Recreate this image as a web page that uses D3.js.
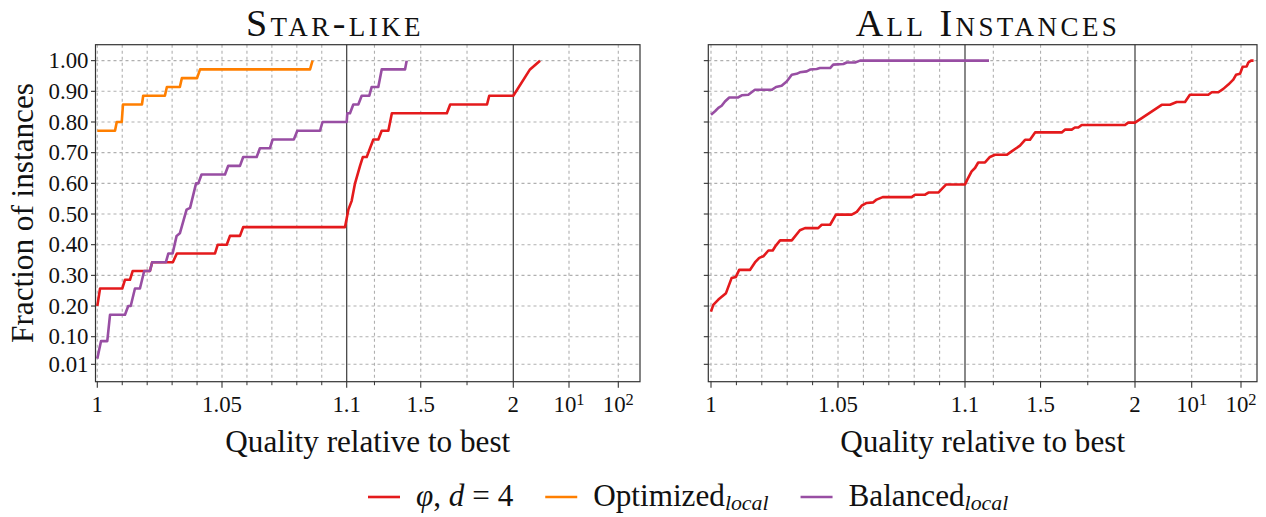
<!DOCTYPE html>
<html><head><meta charset="utf-8">
<script src="https://cdn.jsdelivr.net/npm/d3@7"></script>
<style>
body{margin:0;background:#fff;}
svg text{font-family:"Liberation Serif","DejaVu Serif",serif;fill:#111;}
</style></head><body>
<svg id="c" width="1266" height="517"></svg>
<script>
// ---------- data ----------
const panelTitles = ["Star-like", "All Instances"];
const seriesNames = ["φ, d = 4", "Optimized", "Balanced"];
const seriesColors = ["#e41a1c", "#ff7f00", "#984ea3"];
const yTicks = [0.01, 0.1, 0.2, 0.3, 0.4, 0.5, 0.6, 0.7, 0.8, 0.9, 1.0];
const yTickLabels = ["0.01", "0.10", "0.20", "0.30", "0.40", "0.50", "0.60", "0.70", "0.80", "0.90", "1.00"];
const xMajorTicks = [1, 1.05, 1.1, 1.5, 2, 10, 100];
const xTickLabels = ["1", "1.05", "1.1", "1.5", "2", "10^1", "10^2"];
const xMinorTicks = [1.01, 1.02, 1.03, 1.04, 1.06, 1.07, 1.08, 1.09, 1.25, 1.75];
const xBreaks = [1.1, 2];

const starPhi = [[1.0,0.2],[1.0011,0.2571],[1.0100,0.2571],[1.0111,0.2857],[1.0131,0.2857],[1.0142,0.3143],[1.0211,0.3143],[1.0220,0.3429],[1.0303,0.3429],[1.0319,0.3714],[1.0472,0.3714],[1.0483,0.4],[1.0519,0.4],[1.0532,0.4286],[1.0572,0.4286],[1.0585,0.4571],[1.0993,0.4571],[1.1,0.4857],[1.109,0.5143],[1.127,0.5429],[1.145,0.6],[1.172,0.6571],[1.187,0.6857],[1.208,0.6857],[1.226,0.7143],[1.244,0.7429],[1.271,0.7429],[1.289,0.7714],[1.325,0.7714],[1.344,0.8286],[1.641,0.8286],[1.659,0.8571],[1.858,0.8571],[1.870,0.8857],[2.0,0.8857],[3.24,0.9714],[4.33,1.0]];
const starOpt = [[1.0,0.7714],[1.0071,0.7714],[1.0078,0.8],[1.0098,0.8],[1.0103,0.8571],[1.0179,0.8571],[1.0184,0.8857],[1.0271,0.8857],[1.0279,0.9143],[1.0331,0.9143],[1.0339,0.9429],[1.0400,0.9429],[1.0412,0.9714],[1.0853,0.9714],[1.0863,1.0]];
const starBal = [[1.0,0.0286],[1.0015,0.0857],[1.0040,0.0857],[1.0051,0.1714],[1.0111,0.1714],[1.0124,0.2],[1.0134,0.2],[1.0151,0.2571],[1.0171,0.2571],[1.0188,0.3143],[1.0211,0.3143],[1.0220,0.3429],[1.0275,0.3429],[1.0285,0.3714],[1.0302,0.3714],[1.0318,0.4286],[1.0331,0.4371],[1.0358,0.5143],[1.0372,0.52],[1.0396,0.6],[1.0405,0.6],[1.0418,0.6286],[1.0512,0.6286],[1.0525,0.6571],[1.0572,0.6571],[1.0585,0.6857],[1.0639,0.6857],[1.0652,0.7143],[1.0692,0.7143],[1.0703,0.7429],[1.0788,0.7429],[1.0802,0.7714],[1.0893,0.7714],[1.0903,0.8],[1.1,0.8],[1.1033,0.8286],[1.1178,0.8286],[1.1357,0.8571],[1.1627,0.8571],[1.1810,0.8857],[1.2221,0.8857],[1.2351,0.9143],[1.2707,0.9143],[1.2891,0.9714],[1.415,0.9714],[1.424,1.0]];
const allPhi = [[1.0,0.182],[1.0009,0.204],[1.0029,0.221],[1.0059,0.242],[1.0081,0.291],[1.0098,0.295],[1.0111,0.318],[1.0154,0.318],[1.0173,0.342],[1.0190,0.357],[1.0206,0.362],[1.0226,0.381],[1.0243,0.381],[1.0256,0.398],[1.0272,0.414],[1.0318,0.414],[1.0350,0.447],[1.0370,0.454],[1.0422,0.454],[1.0436,0.465],[1.0469,0.465],[1.0492,0.498],[1.0554,0.498],[1.0574,0.507],[1.0593,0.527],[1.0613,0.536],[1.0639,0.538],[1.0652,0.547],[1.0676,0.555],[1.0790,0.555],[1.0803,0.563],[1.0843,0.563],[1.0856,0.570],[1.0895,0.570],[1.0925,0.596],[1.1,0.596],[1.112,0.612],[1.135,0.639],[1.153,0.650],[1.170,0.668],[1.206,0.668],[1.232,0.686],[1.259,0.693],[1.321,0.693],[1.347,0.704],[1.391,0.723],[1.418,0.742],[1.444,0.742],[1.471,0.766],[1.612,0.766],[1.629,0.775],[1.665,0.775],[1.682,0.782],[1.700,0.782],[1.718,0.790],[1.947,0.790],[1.964,0.798],[2.0,0.798],[4.27,0.856],[5.4,0.856],[6.53,0.865],[8.27,0.865],[9.5,0.889],[21.7,0.889],[25.5,0.897],[34.7,0.897],[43.8,0.908],[55.3,0.922],[69.8,0.938],[79.2,0.954],[95.5,0.957],[108,0.980],[130,0.981],[141,0.994],[160,1.0],[180,1.0]];
const allBal = [[1.0,0.824],[1.0016,0.835],[1.0029,0.846],[1.0042,0.853],[1.0055,0.867],[1.0072,0.880],[1.0107,0.880],[1.0121,0.887],[1.0147,0.889],[1.0173,0.905],[1.0239,0.905],[1.0256,0.914],[1.0278,0.918],[1.0298,0.932],[1.0318,0.954],[1.0337,0.957],[1.0350,0.962],[1.0377,0.965],[1.0390,0.971],[1.0416,0.973],[1.0429,0.976],[1.0469,0.976],[1.0481,0.987],[1.0521,0.989],[1.0534,0.994],[1.0567,0.994],[1.0587,1.0],[1.227,1.0]];

// ---------- layout ----------
const panels = [
  {title: panelTitles[0], titleX: 335, left: 95.5, right: 640, anchors: [97.3, 346.7, 513.3, 569, 618.3], series: [[starPhi,0],[starOpt,1],[starBal,2]], ylabels: true},
  {title: panelTitles[1], titleX: 988, left: 708.3, right: 1257, anchors: [711, 965, 1135, 1191.7, 1241], series: [[allPhi,0],[allBal,2]], ylabels: false}
];
const plotTop = 44.7, plotBottom = 381.7;
const y = d3.scaleLinear().domain([-0.0467, 1.052]).range([plotBottom, plotTop]);

const svg = d3.select("#c");

function textWidth(str, size, extra) {
  const t = svg.append("text").attr("font-size", size).text(str);
  if (extra) extra(t);
  const w = t.node().getComputedTextLength();
  t.remove();
  return w;
}
const tickFS = 100 * 40 / textWidth("1.00", 100);
const labelFS = 100 * 285 / textWidth("Quality relative to best", 100);
const titleFS = 38;
const titleSpacing = Math.max(0, (178 - textWidth(panelTitles[0], titleFS, t => t.style("font-variant", "small-caps"))) / 9);

function makeX(a) {
  const lin = d3.scaleLinear().domain([1, 1.1, 2]).range([a[0], a[1], a[2]]);
  const lg = d3.scaleLinear().domain([Math.log10(2), 1, 2]).range([a[2], a[3], a[4]]);
  return v => v <= 2 ? lin(v) : lg(Math.log10(v));
}

panels.forEach(p => {
  const x = makeX(p.anchors);
  const g = svg.append("g");
  const gridX = xMajorTicks.concat(xMinorTicks).filter(v => !xBreaks.includes(v));
  g.selectAll(".gx").data(gridX).join("line")
    .attr("x1", d => x(d)).attr("x2", d => x(d)).attr("y1", plotTop).attr("y2", plotBottom)
    .attr("stroke", "#b0b0b0").attr("stroke-width", 1.1).attr("stroke-dasharray", "3,3");
  g.selectAll(".gy").data(yTicks).join("line")
    .attr("x1", p.left).attr("x2", p.right).attr("y1", d => y(d)).attr("y2", d => y(d))
    .attr("stroke", "#b0b0b0").attr("stroke-width", 1.1).attr("stroke-dasharray", "3,3");
  g.selectAll(".br").data(xBreaks).join("line")
    .attr("x1", d => x(d)).attr("x2", d => x(d)).attr("y1", plotTop).attr("y2", plotBottom)
    .attr("stroke", "#3a3a3a").attr("stroke-width", 1.2);
  const line = d3.line().x(d => x(d[0])).y(d => y(d[1]));
  p.series.forEach(([data, ci]) => {
    g.append("path").datum(data).attr("d", line).attr("fill", "none")
      .attr("stroke", seriesColors[ci]).attr("stroke-width", 2.6)
      .attr("stroke-linejoin", "round").attr("stroke-linecap", "butt");
  });
  g.append("rect").attr("x", p.left).attr("y", plotTop).attr("width", p.right - p.left).attr("height", plotBottom - plotTop)
    .attr("fill", "none").attr("stroke", "#333").attr("stroke-width", 1.2);
  g.selectAll(".yt").data(yTicks).join("line")
    .attr("x1", p.left - 4.5).attr("x2", p.left).attr("y1", d => y(d)).attr("y2", d => y(d))
    .attr("stroke", "#333").attr("stroke-width", 1.1);
  if (p.ylabels) {
    g.selectAll(".yl").data(yTicks).join("text")
      .attr("x", p.left - 7).attr("y", d => y(d)).attr("dy", "0.34em")
      .attr("text-anchor", "end").attr("font-size", tickFS)
      .text((d, i) => yTickLabels[i]);
  }
  g.selectAll(".xt").data(xMajorTicks).join("line")
    .attr("x1", d => x(d)).attr("x2", d => x(d)).attr("y1", plotBottom).attr("y2", plotBottom + 6)
    .attr("stroke", "#333").attr("stroke-width", 1.1);
  g.selectAll(".xm").data(xMinorTicks).join("line")
    .attr("x1", d => x(d)).attr("x2", d => x(d)).attr("y1", plotBottom).attr("y2", plotBottom + 3.5)
    .attr("stroke", "#333").attr("stroke-width", 1);
  xMajorTicks.forEach((v, i) => {
    const lab = xTickLabels[i];
    const t = g.append("text").attr("x", x(v)).attr("y", 412).attr("text-anchor", "middle").attr("font-size", tickFS);
    if (lab.includes("^")) {
      const [b, e] = lab.split("^");
      t.append("tspan").text(b);
      t.append("tspan").attr("dy", "-0.42em").style("font-size", "0.72em").text(e);
    } else t.text(lab);
  });
  svg.append("text").attr("x", p.titleX).attr("y", 36).attr("text-anchor", "middle")
    .attr("font-size", titleFS).style("font-variant", "small-caps")
    .style("letter-spacing", titleSpacing + "px").text(p.title);
  svg.append("text").attr("x", (p.left + p.right) / 2).attr("y", 452).attr("text-anchor", "middle")
    .attr("font-size", labelFS).text("Quality relative to best");
});
svg.append("text").attr("transform", "translate(33,213) rotate(-90)").attr("text-anchor", "middle")
  .attr("font-size", labelFS).text("Fraction of instances");

// legend
const lg = svg.append("g");
let cursor = 368;
seriesNames.forEach((name, i) => {
  const x0 = cursor;
  lg.append("line").attr("x1", x0).attr("x2", x0 + 32).attr("y1", 497).attr("y2", 497)
    .attr("stroke", seriesColors[i]).attr("stroke-width", 2.6);
  const t = lg.append("text").attr("x", x0 + 48).attr("y", 506).attr("font-size", labelFS);
  if (i === 0) {
    t.append("tspan").attr("font-style", "italic").text("φ");
    t.append("tspan").text(", ");
    t.append("tspan").attr("font-style", "italic").text("d");
    t.append("tspan").text(" = 4");
  } else {
    t.append("tspan").text(name);
    t.append("tspan").attr("dy", "0.2em").style("font-size", "0.7em").attr("font-style", "italic").text("local");
  }
  cursor = x0 + 48 + t.node().getComputedTextLength() + 32;
});
</script>
</body></html>
